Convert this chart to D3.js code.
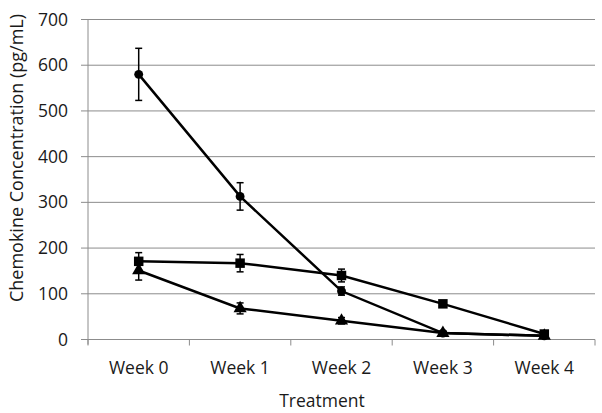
<!DOCTYPE html>
<html><head><meta charset="utf-8">
<script src="https://cdn.jsdelivr.net/npm/d3@7"></script>
<style>body{margin:0;background:#fff}svg{display:block}text{font-family:"Open Sans",sans-serif;fill:#1a1a1a}</style>
</head><body><svg id="c" width="602" height="413"></svg>
<script>
const categories = ["Week 0","Week 1","Week 2","Week 3","Week 4"];
const yTicks = [0,100,200,300,400,500,600,700];
const circleVals = [580,313,106,14,8];
const circleErr = [57,30,9,4,3];
const squareVals = [171,167,140,78,12];
const squareErr = [19,19,14,5,4];
const triangleVals = [151,68,41,14,8];
const triangleErr = [21,12,7,4,3];
const xTitle = "Treatment";
const yTitle = "Chemokine Concentration (pg/mL)";

const series = [
  {vals: circleVals, err: circleErr, shape: d3.symbolCircle, size: 62},
  {vals: squareVals, err: squareErr, shape: d3.symbolSquare, size: 90},
  {vals: triangleVals, err: triangleErr, shape: d3.symbolTriangle, size: 75}
];

const svg = d3.select("#c");
const L = 88, R = 595, T = 19.5, B = 339.5;
const x = d3.scaleBand().domain(categories).range([L, R]);
const y = d3.scaleLinear().domain([0,700]).range([B, T]);
const cx = c => x(c) + x.bandwidth()/2;
const grid = "#8c8c8c";
const fs = 17.5;

svg.append("g").selectAll("line").data(yTicks).join("line")
  .attr("x1", L-7).attr("x2", R).attr("y1", d=>y(d)).attr("y2", d=>y(d))
  .attr("stroke", grid).attr("stroke-width", 1);
svg.append("line").attr("x1", L).attr("x2", L).attr("y1", T).attr("y2", B+5).attr("stroke", grid);
const xt = categories.map(c => x(c)).concat([R]);
svg.append("g").selectAll("line").data(xt).join("line")
  .attr("x1", d=>d).attr("x2", d=>d).attr("y1", B).attr("y2", B+6).attr("stroke", grid);
svg.append("g").selectAll("text").data(yTicks).join("text")
  .attr("x", 68).attr("y", d=>y(d)+6).attr("text-anchor","end").attr("font-size", fs).text(d=>d);
svg.append("g").selectAll("text").data(categories).join("text")
  .attr("x", d=>cx(d)).attr("y", 374).attr("text-anchor","middle").attr("font-size", fs).text(d=>d);
svg.append("text").attr("x", 322).attr("y", 407).attr("text-anchor","middle").attr("font-size", fs).text(xTitle);
svg.append("text").attr("transform","translate(23,158) rotate(-90)").attr("text-anchor","middle").attr("font-size", 18).text(yTitle);

const line = d3.line().x((d,i)=>cx(categories[i])).y(d=>y(d));
series.forEach(s => {
  const g = svg.append("g");
  g.append("path").datum(s.vals).attr("d", line).attr("fill","none").attr("stroke","#000").attr("stroke-width", 2.5);
  s.vals.forEach((v,i) => {
    const px = cx(categories[i]);
    const e = s.err[i];
    g.append("line").attr("x1",px).attr("x2",px).attr("y1",y(v+e)).attr("y2",y(v-e)).attr("stroke","#000").attr("stroke-width",1.5);
    [v+e, v-e].forEach(w => g.append("line").attr("x1",px-3.5).attr("x2",px+3.5).attr("y1",y(w)).attr("y2",y(w)).attr("stroke","#000").attr("stroke-width",1.5));
    g.append("path").attr("d", d3.symbol().type(s.shape).size(s.size)())
      .attr("transform", `translate(${px},${y(v)})`).attr("fill","#000");
  });
});
</script></body></html>
